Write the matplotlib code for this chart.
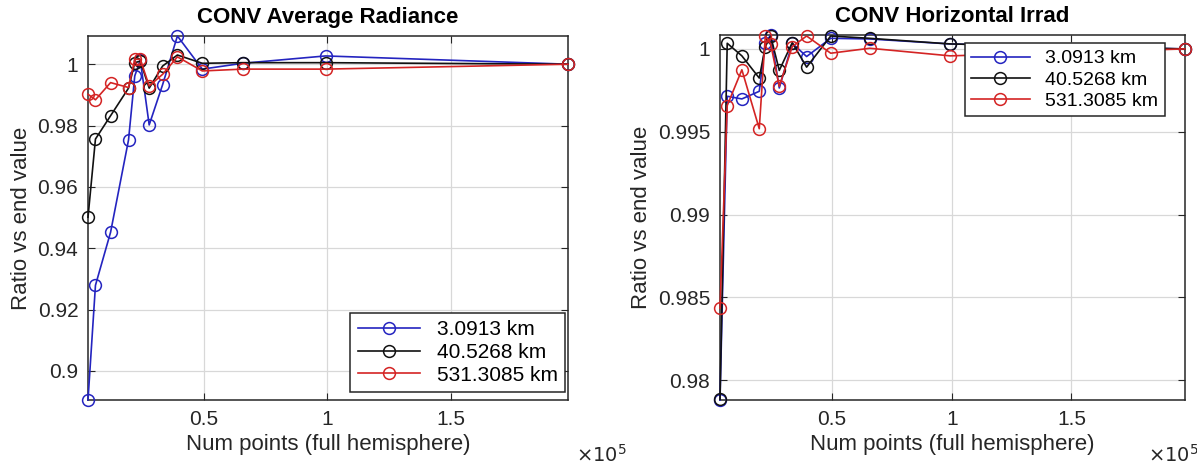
"""Convergence of CONV ratios vs number of hemisphere points."""

import matplotlib

matplotlib.use("Agg")
import matplotlib.pyplot as plt
from matplotlib.ticker import FuncFormatter

plt.rcParams["font.family"] = ["Liberation Sans", "DejaVu Sans"]

num_points = [3261, 6278, 12393, 19650, 22177, 24419, 28006, 33428,
              39421, 49490, 65797, 99348, 197400]

labels = ["3.0913 km", "40.5268 km", "531.3085 km"]
colors = ["#2424c0", "#111111", "#d42424"]

# CONV Average Radiance
radiance = [
    [0.8905, 0.9279, 0.9452, 0.9753, 0.9962, 1.0013, 0.9802, 0.9933,
     1.0092, 0.9984, 1.0003, 1.0027, 1.0],
    [0.9501, 0.9756, 0.9832, 0.9922, 1.0005, 1.0010, 0.9922, 0.9994,
     1.0030, 1.0003, 1.0005, 1.0005, 1.0],
    [0.9902, 0.9884, 0.9940, 0.9924, 1.0016, 1.0016, 0.9929, 0.9967,
     1.0024, 0.9978, 0.9984, 0.9984, 1.0],
]

# CONV Horizontal Irrad
irrad = [
    [0.97880, 0.99714, 0.99698, 0.99744, 1.00034, 1.00084, 0.99764, 1.00034,
     0.99954, 1.00064, 1.00060, 1.00030, 1.0],
    [0.97885, 1.00034, 0.99958, 0.99824, 1.00014, 1.00078, 0.99870, 1.00038,
     0.99890, 1.00078, 1.00064, 1.00030, 1.0],
    [0.98434, 0.99658, 0.99874, 0.99518, 1.00078, 1.00030, 0.99774, 1.00014,
     1.00078, 0.99974, 1.00004, 0.99958, 1.0],
]

rad_yticks = [0.9, 0.92, 0.94, 0.96, 0.98, 1]
irr_yticks = [0.98, 0.985, 0.99, 0.995, 1]
xticks = [0.5e5, 1e5, 1.5e5]

W, H = 1197, 467


def draw(ax, series, title, yticks, leg_anchor, leg_loc, leg_size):
    for vals, lab, col in zip(series, labels, colors):
        ax.plot(num_points, vals, "-o", color=col, mfc="none", ms=8.5,
                mew=1.1, lw=1.2, label=lab, clip_on=False, zorder=3)
    allv = [v for s in series for v in s]
    ax.set_xlim(min(num_points), max(num_points))
    ax.set_ylim(min(allv), max(allv))
    ax.set_xticks(xticks)
    ax.set_yticks(yticks)
    ax.xaxis.set_major_formatter(FuncFormatter(lambda v, p: f"{v / 1e5:g}"))
    ax.yaxis.set_major_formatter(FuncFormatter(lambda v, p: f"{v:g}"))
    ax.grid(True, color="#d8d8d8", lw=0.9)
    ax.set_axisbelow(True)
    ax.tick_params(direction="in", top=True, right=True, length=5,
                   labelsize=15, colors="#262626", pad=7)
    for sp in ax.spines.values():
        sp.set_color("#262626")
        sp.set_linewidth(1.1)
    ax.set_title(title, fontsize=16, fontweight="bold", pad=9)
    ax.set_xlabel("Num points (full hemisphere)", fontsize=16, color="#262626")
    ax.set_ylabel("Ratio vs end value", fontsize=16, color="#262626")
    leg = ax.legend(loc=leg_loc, bbox_to_anchor=leg_anchor, fontsize=leg_size,
                    fancybox=False, framealpha=1, edgecolor="#262626",
                    handlelength=3.0, borderaxespad=0, labelspacing=0.18,
                    borderpad=0.35)
    leg.get_frame().set_linewidth(1.1)


fig = plt.figure(figsize=(W / 100, H / 100), dpi=100)
ax1 = fig.add_axes([88 / W, 67 / H, 480 / W, 364 / H])
ax2 = fig.add_axes([720 / W, 67 / H, 465 / W, 365 / H])

draw(ax1, radiance, "CONV Average Radiance", rad_yticks,
     (0.994, 0.022), "lower right", 15)
draw(ax2, irrad, "CONV Horizontal Irrad", irr_yticks,
     (0.957, 0.978), "upper right", 14)

for x0 in (576, 1148):
    fig.text(x0 / W, (H - 455) / H, r"$\times10^5$", fontsize=14,
             color="#262626", ha="left", va="center")

fig.savefig("out.png", dpi=100)
